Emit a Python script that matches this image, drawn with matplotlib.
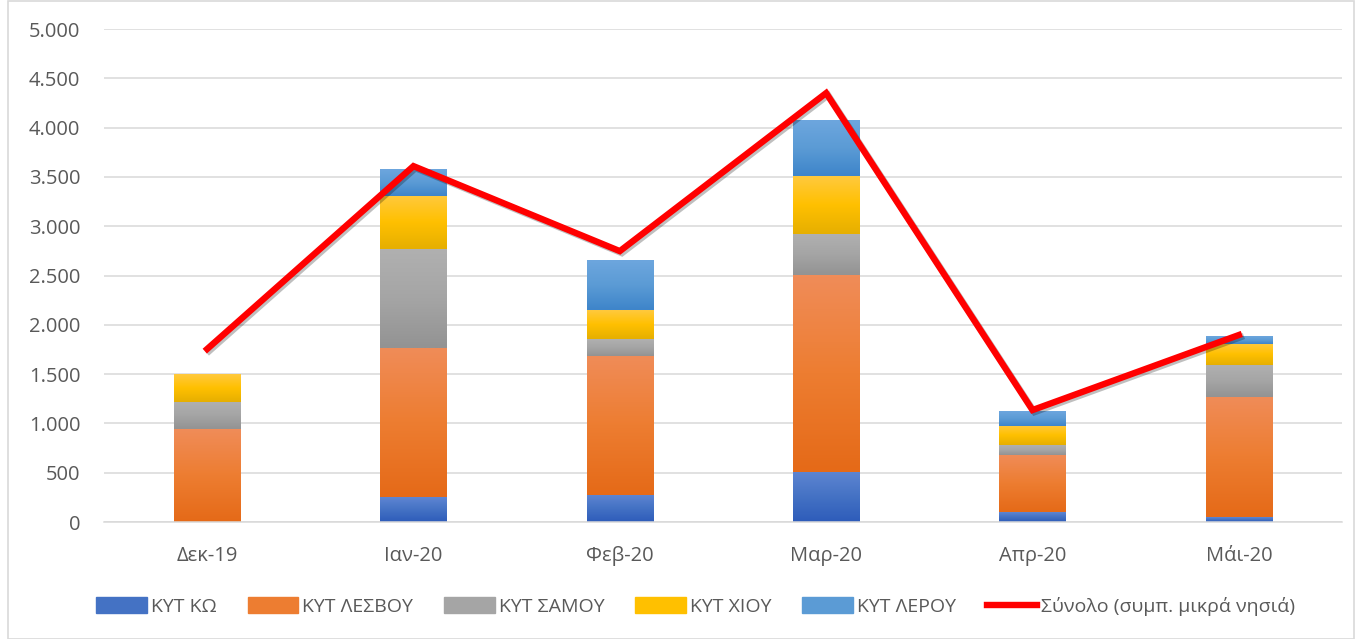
import matplotlib
matplotlib.use("Agg")
import matplotlib.pyplot as plt
import matplotlib.patheffects as pe
from matplotlib.patches import Rectangle
from matplotlib.lines import Line2D
from matplotlib.ticker import FuncFormatter, MultipleLocator
from matplotlib.colors import LinearSegmentedColormap
import numpy as np

plt.rcParams['font.family'] = ['Open Sans', 'DejaVu Sans']

months = ["Δεκ-19", "Ιαν-20", "Φεβ-20", "Μαρ-20", "Απρ-20", "Μάι-20"]
kos    = [5, 250, 274, 510, 101, 48]
lesvos = [940, 1518, 1413, 1995, 579, 1223]
samos  = [277, 1000, 169, 419, 101, 321]
chios  = [278, 541, 294, 585, 196, 213]
leros  = [0, 267, 497, 558, 152, 81]
total  = [1755, 3610, 2748, 4351, 1136, 1897]

series_names = ["ΚΥΤ ΚΩ", "ΚΥΤ ΛΕΣΒΟΥ", "ΚΥΤ ΣΑΜΟΥ", "ΚΥΤ ΧΙΟΥ", "ΚΥΤ ΛΕΡΟΥ"]
total_name = "Σύνολο (συμπ. μικρά νησιά)"
colors = ["#4472C4", "#ED7D31", "#A5A5A5", "#FFC000", "#5B9BD5"]
grad_top = ["#5E85D2", "#F08C58", "#B0B0B0", "#FFC93D", "#6DA6DE"]
grad_bot = ["#2E5CBA", "#E56A18", "#939393", "#E6AF00", "#3E85CA"]

fig = plt.figure(figsize=(13.59, 6.39), dpi=100)
ax = fig.add_axes([0.0765, 0.183, 0.911, 0.7715])

x = np.arange(len(months))
bottom = np.zeros(len(months))
handles = []
grad = np.linspace(1, 0, 64).reshape(-1, 1)
for i, (vals, c, name) in enumerate(zip([kos, lesvos, samos, chios, leros], colors, series_names)):
    bars = ax.bar(x, vals, width=0.32, bottom=bottom, color=c, zorder=2)
    cmap = LinearSegmentedColormap.from_list(f"g{i}", [grad_bot[i], c, grad_top[i]])
    for b in bars:
        if b.get_height() <= 0:
            continue
        x0, y0 = b.get_x(), b.get_y()
        ax.imshow(grad, extent=[x0, x0 + b.get_width(), y0, y0 + b.get_height()],
                  aspect="auto", cmap=cmap, vmin=0, vmax=1, zorder=2.1,
                  interpolation="bilinear")
    bottom += np.array(vals)
    handles.append(Rectangle((0, 0), 1, 1, color=c, label=name))

ax.plot(x, total, color="#FF0000", lw=4.6, zorder=3, solid_joinstyle="miter",
        path_effects=[pe.SimpleLineShadow(offset=(1.5, -1.5), alpha=0.25), pe.Normal()])
handles.append(Line2D([0], [0], color="#FF0000", lw=4.6, label=total_name))

ax.set_xlim(-0.5, len(months) - 0.5)
ax.set_ylim(0, 5000)
ax.yaxis.set_major_locator(MultipleLocator(500))
ax.yaxis.set_major_formatter(FuncFormatter(lambda v, p: f"{int(v):,}".replace(",", ".")))
ax.set_xticks(x)
ax.set_xticklabels(months)
ax.grid(axis="y", color="#D9D9D9", lw=1.1, zorder=0)
ax.set_axisbelow(True)
for s in ["top", "right", "left"]:
    ax.spines[s].set_visible(False)
ax.spines["bottom"].set_color("#D9D9D9")
ax.spines["bottom"].set_linewidth(1.1)
ax.tick_params(axis="both", length=0, labelsize=14.5, colors="#595959")
ax.tick_params(axis="y", pad=17)
ax.tick_params(axis="x", pad=17)

leg = fig.legend(handles=handles, loc="center", bbox_to_anchor=(0.512, 0.051), ncol=6,
                 frameon=False, fontsize=14, handlelength=2.6, handleheight=0.85,
                 handletextpad=0.2, columnspacing=1.6)
for t in leg.get_texts():
    t.set_color("#595959")

fig.patches.append(Rectangle((0.006, 0.0), 0.99, 0.998, transform=fig.transFigure,
                             fill=False, edgecolor="#D9D9D9", lw=1.2))

fig.savefig("out.png", dpi=100)
